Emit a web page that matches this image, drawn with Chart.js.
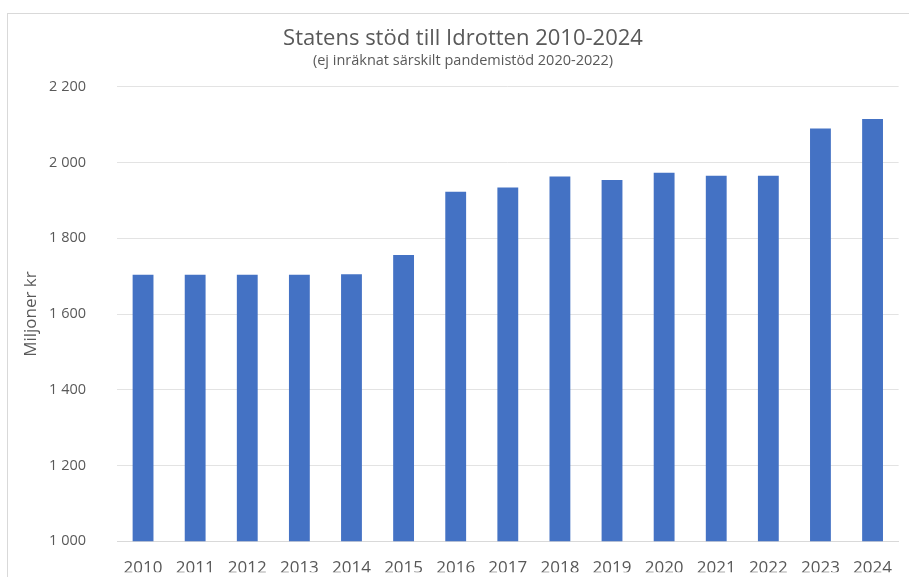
<!DOCTYPE html>
<html>
<head>
<meta charset="utf-8">
<script src="https://cdn.jsdelivr.net/npm/chart.js@4.4.1/dist/chart.umd.min.js"></script>
<style>
  html, body { margin: 0; padding: 0; background: #fff; }
  #wrap { position: relative; width: 909px; height: 577px; overflow: hidden; }
  #frame { position: absolute; left: 7px; top: 13px; width: 1000px; height: 700px; border: 1px solid #d9d9d9; }
  #c { position: absolute; left: 0; top: 0; }
</style>
</head>
<body>
<div id="wrap">
  <div id="frame"></div>
  <canvas id="c" width="909" height="581"></canvas>
</div>
<script>
const years = ["2010", "2011", "2012", "2013", "2014", "2015", "2016", "2017", "2018", "2019", "2020", "2021", "2022", "2023", "2024"];
const support = [1704, 1704, 1704, 1704, 1705, 1756, 1923, 1934, 1963, 1954, 1973, 1965, 1965, 2090, 2115];
const yTicks = [1000, 1200, 1400, 1600, 1800, 2000, 2200];

const textColor = "#595959";
const fontName = "'Open Sans', 'Liberation Sans', Arial, sans-serif";

// Statens stöd (Column Chart)
new Chart(document.getElementById("c"), {
  type: "bar",
  data: {
    labels: years,
    datasets: [
      {
        label: "Miljoner kr",
        data: support,
        backgroundColor: "#4472C4",
        barPercentage: 0.8,
        categoryPercentage: 0.5,
      },
    ],
  },
  options: {
    responsive: false,
    animation: false,
    layout: { padding: { top: 26, right: 0, bottom: 0, left: 17 } },
    plugins: {
      legend: { display: false },
      tooltip: { enabled: false },
      title: {
        display: true,
        text: "Statens stöd till Idrotten 2010-2024",
        color: textColor,
        font: { family: fontName, size: 22, weight: "normal" },
        padding: { top: 0, bottom: 0 },
      },
      subtitle: {
        display: true,
        text: "(ej inräknat särskilt pandemistöd 2020-2022)",
        color: textColor,
        font: { family: fontName, size: 14.5, weight: "normal" },
        padding: { top: 0, bottom: 17 },
      },
    },
    scales: {
      x: {
        grid: { display: false, drawTicks: false },
        border: { color: "#d9d9d9" },
        ticks: {
          color: textColor,
          font: { family: fontName, size: 17 },
          padding: 17,
          maxRotation: 0,
        },
        afterFit: (scale) => { scale.height = 31; },
      },
      y: {
        min: 1000,
        max: 2200,
        afterBuildTicks: (scale) => {
          scale.ticks = yTicks.map((v) => ({ value: v }));
        },
        grid: { color: "#e3e3e3", drawTicks: false },
        border: { display: false },
        ticks: {
          color: textColor,
          font: { family: fontName, size: 14.5 },
          padding: 31,
          callback: (v) => String(v).replace(/\B(?=(\d{3})+(?!\d))/g, " "),
        },
        title: {
          display: true,
          text: "Miljoner kr",
          color: textColor,
          font: { family: fontName, size: 17, weight: "normal" },
          padding: { top: 4, bottom: 0 },
        },
        afterFit: (scale) => { scale.width = 100; },
      },
    },
  },
});
</script>
</body>
</html>
